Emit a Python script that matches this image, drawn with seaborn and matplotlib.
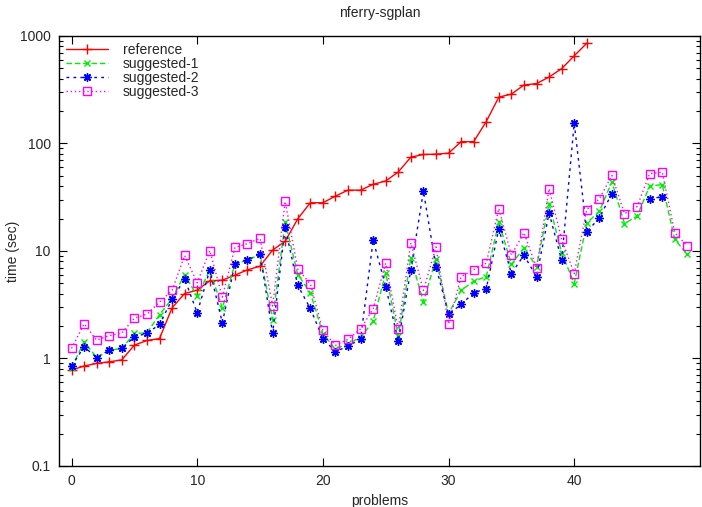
import numpy as np
import pandas as pd
import matplotlib
matplotlib.use("Agg")
import matplotlib.pyplot as plt
import seaborn as sns


# ======================
# Data
# ======================

problems = list(range(50))

reference = [
    0.78, 0.85, 0.90, 0.93, 0.97, 1.33, 1.47, 1.53, 2.96, 4.02,
    4.32, 5.28, 5.35, 5.95, 6.68, 7.21, 10.2, 12.3, 19.9, 28.1,
    28.1, 32.4, 36.8, 36.8, 41.7, 44.8, 54.3, 74.7, 79.0, 79.6,
    81.2, 104, 104, 160, 270, 288, 350, 361, 415, 497,
    654, 857,
]

suggested_1 = [
    0.82, 1.43, 1.02, 1.19, 1.24, 1.71, 1.73, 2.55, 3.61, 6.04,
    3.80, 6.63, 2.94, 7.59, 8.20, 9.30, 2.30, 18.6, 6.04, 4.10,
    1.70, 1.22, 1.38, 1.56, 2.22, 6.27, 1.61, 8.56, 3.37, 8.44,
    2.62, 4.29, 5.25, 5.76, 18.6, 7.50, 10.7, 7.13, 27.6, 9.60,
    4.98, 18.2, 23.4, 44.0, 18.0, 21.1, 40.1, 41.5, 12.8, 9.30,
]

suggested_2 = [
    0.85, 1.28, 1.02, 1.19, 1.24, 1.59, 1.71, 2.07, 3.54, 5.50,
    2.66, 6.63, 2.15, 7.59, 8.20, 9.46, 1.71, 16.6, 4.78, 2.92,
    1.53, 1.16, 1.30, 1.52, 12.6, 4.67, 1.45, 6.68, 36.1, 7.13,
    2.58, 3.18, 4.08, 4.45, 16.1, 6.17, 9.14, 5.76, 22.6, 8.20,
    155, 15.0, 20.4, 34.2, np.nan, np.nan, 30.5, 32.0, np.nan, np.nan,
]

suggested_3 = [
    1.24, 2.10, 1.48, 1.63, 1.72, 2.37, 2.58, 3.34, 4.29, 9.08,
    5.06, 10.1, 3.72, 10.8, 11.7, 13.1, 3.07, 28.9, 6.80, 4.95,
    1.82, 1.32, 1.51, 1.88, 2.90, 7.70, 1.88, 11.9, 4.29, 10.9,
    2.09, 5.76, 6.72, 7.70, 24.8, 9.14, 14.8, 6.97, 38.0, 12.8,
    6.17, 24.3, 30.5, 50.4, 22.2, 25.8, 52.3, 54.3, 14.8, 11.1,
]

series = {
    "reference": reference,
    "suggested-1": suggested_1,
    "suggested-2": suggested_2,
    "suggested-3": suggested_3,
}

colors = {
    "reference": "#ff0000",
    "suggested-1": "#00ee00",
    "suggested-2": "#0000ff",
    "suggested-3": "#ff00ff",
}

styles = {
    "reference": dict(linestyle="-", marker="+", markersize=6.5),
    "suggested-1": dict(linestyle=(0, (4, 2)), marker="x", markersize=5),
    "suggested-2": dict(linestyle=(0, (2, 3)), marker=(8, 2, 0), markersize=6),
    "suggested-3": dict(linestyle=(0, (1, 2)), marker="s", markersize=5.5),
}


# ======================
# Figure
# ======================

sns.set_style("white")
plt.rcParams["font.family"] = ["Liberation Sans", "DejaVu Sans"]

fig = plt.figure(figsize=(7.02, 5.07), dpi=100)
ax = fig.add_axes([0.084, 0.081, 0.913, 0.848])

for name, values in series.items():
    df = pd.DataFrame({"problem": problems[:len(values)], "time": values})
    # split on missing values so gaps stay open
    ok = df["time"].notna()
    seg_id = (~ok).cumsum()
    first = True
    for _, seg in df[ok].groupby(seg_id[ok]):
        sns.lineplot(
            data=seg,
            x="problem",
            y="time",
            ax=ax,
            label=name if first else None,
            color=colors[name],
            markeredgecolor=colors[name],
            markerfacecolor="none",
            linewidth=1.0,
            markeredgewidth=1.0,
            **styles[name]
        )
        first = False

ax.set_yscale("log")
ax.set_ylim(0.1, 1000)
ax.set_xlim(-1, 50)
ax.set_xticks([0, 10, 20, 30, 40])
ax.set_yticks([0.1, 1, 10, 100, 1000])
ax.set_yticklabels(["0.1", "1", "10", "100", "1000"])

ax.tick_params(axis="both", which="both", direction="in",
               top=True, right=True, left=True, bottom=True,
               labelsize=10, color="black")
ax.tick_params(axis="both", which="major", length=6, width=0.8, pad=6)
ax.tick_params(axis="y", which="minor", length=3, width=0.8)

for spine in ax.spines.values():
    spine.set_color("black")
    spine.set_linewidth(1.0)

ax.set_xlabel("problems", fontsize=10, labelpad=4)
ax.set_ylabel("time (sec)", fontsize=10, labelpad=0)
ax.set_title("nferry-sgplan", fontsize=10, pad=14)

ax.legend(
    loc="upper left",
    frameon=False,
    fontsize=10,
    handlelength=3.0,
    numpoints=1,
    labelspacing=0.0,
    borderaxespad=0.12,
    handletextpad=1.1,
)

fig.savefig("out.png", dpi=100)
plt.close()
